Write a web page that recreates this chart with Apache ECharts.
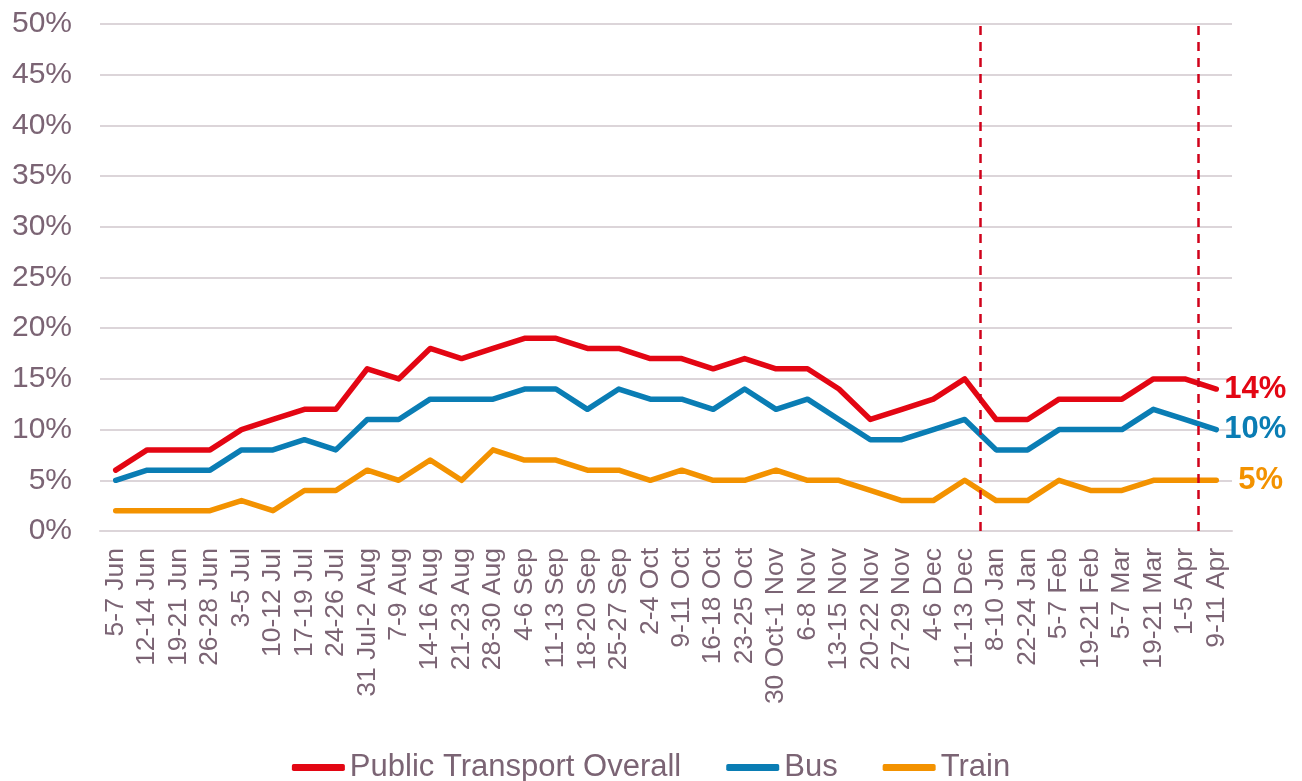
<!DOCTYPE html>
<html>
<head>
<meta charset="utf-8">
<script src="https://cdn.jsdelivr.net/npm/echarts@6/dist/echarts.min.js"></script>
<style>
html,body{margin:0;padding:0;background:#fff;}
#main{width:1302px;height:781px;}
</style>
</head>
<body>
<div id="main"></div>
<script>
var categories = ['5-7 Jun','12-14 Jun','19-21 Jun','26-28 Jun','3-5 Jul','10-12 Jul','17-19 Jul','24-26 Jul','31 Jul-2 Aug','7-9 Aug','14-16 Aug','21-23 Aug','28-30 Aug','4-6 Sep','11-13 Sep','18-20 Sep','25-27 Sep','2-4 Oct','9-11 Oct','16-18 Oct','23-25 Oct','30 Oct-1 Nov','6-8 Nov','13-15 Nov','20-22 Nov','27-29 Nov','4-6 Dec','11-13 Dec','8-10 Jan','22-24 Jan','5-7 Feb','19-21 Feb','5-7 Mar','19-21 Mar','1-5 Apr','9-11 Apr'];
var publicTransport = [6,8,8,8,10,11,12,12,16,15,18,17,18,19,19,18,18,17,17,16,17,16,16,14,11,12,13,15,11,11,13,13,13,15,15,14];
var bus = [5,6,6,6,8,8,9,8,11,11,13,13,13,14,14,12,14,13,13,12,14,12,13,11,9,9,10,11,8,8,10,10,10,12,11,10];
var train = [2,2,2,2,3,2,4,4,6,5,7,5,8,7,7,6,6,5,6,5,5,6,5,5,4,3,3,5,3,3,5,4,4,5,5,5];
var seriesNames = ['Public Transport Overall','Bus','Train'];
var dividerPositions = [28, 34.92];
var yTicks = {min: 0, max: 50, interval: 5};

var txt = '#7b6474';
var grid = '#dcd5d9';
var font = '"Liberation Sans", Arial, sans-serif';
var colors = ['#e30613', '#0a7db4', '#f39200'];

function lineSeries(name, data, color, dist) {
  return {
    name: name, type: 'line', data: data, symbol: 'none',
    lineStyle: {color: color, width: 5.5, cap: 'round', join: 'round'},
    itemStyle: {color: color},
    endLabel: {show: true, formatter: function(p){ return p.value + '%'; },
      color: color, fontSize: 31, fontWeight: 'bold', fontFamily: font, distance: dist},
    z: 3
  };
}

var chart = echarts.init(document.getElementById('main'));
chart.setOption({
  animation: false,
  textStyle: {fontFamily: font},
  grid: {left: 100, right: 70, top: 24, bottom: 250},
  legend: {
    data: seriesNames, top: 747, left: 'center',
    itemWidth: 53, itemHeight: 7, itemGap: 45, icon: 'roundRect',
    textStyle: {color: txt, fontSize: 31, fontFamily: font}
  },
  xAxis: [{
    type: 'category', data: categories, boundaryGap: true,
    axisLine: {lineStyle: {color: grid, width: 2}},
    axisTick: {show: false},
    axisLabel: {rotate: 90, color: txt, fontSize: 26.5, fontFamily: font, margin: 17, interval: 0}
  }, {
    type: 'value', min: 0, max: categories.length, show: false
  }],
  yAxis: {
    type: 'value', min: yTicks.min, max: yTicks.max, interval: yTicks.interval,
    axisLine: {show: false}, axisTick: {show: false},
    splitLine: {lineStyle: {color: grid, width: 2}},
    axisLabel: {formatter: '{value}%', color: txt, fontSize: 30, fontFamily: font, margin: 28}
  },
  series: [
    lineSeries(seriesNames[0], publicTransport, colors[0], 8),
    lineSeries(seriesNames[1], bus, colors[1], 8),
    lineSeries(seriesNames[2], train, colors[2], 22),
    {
      name: 'dividers', type: 'line', xAxisIndex: 1, data: [], symbol: 'none',
      markLine: {
        silent: true, symbol: 'none', label: {show: false},
        lineStyle: {color: '#d0021b', width: 2.5, type: [9, 7]},
        data: dividerPositions.map(function(v){ return {xAxis: v}; })
      }
    }
  ]
});
</script>
</body>
</html>
